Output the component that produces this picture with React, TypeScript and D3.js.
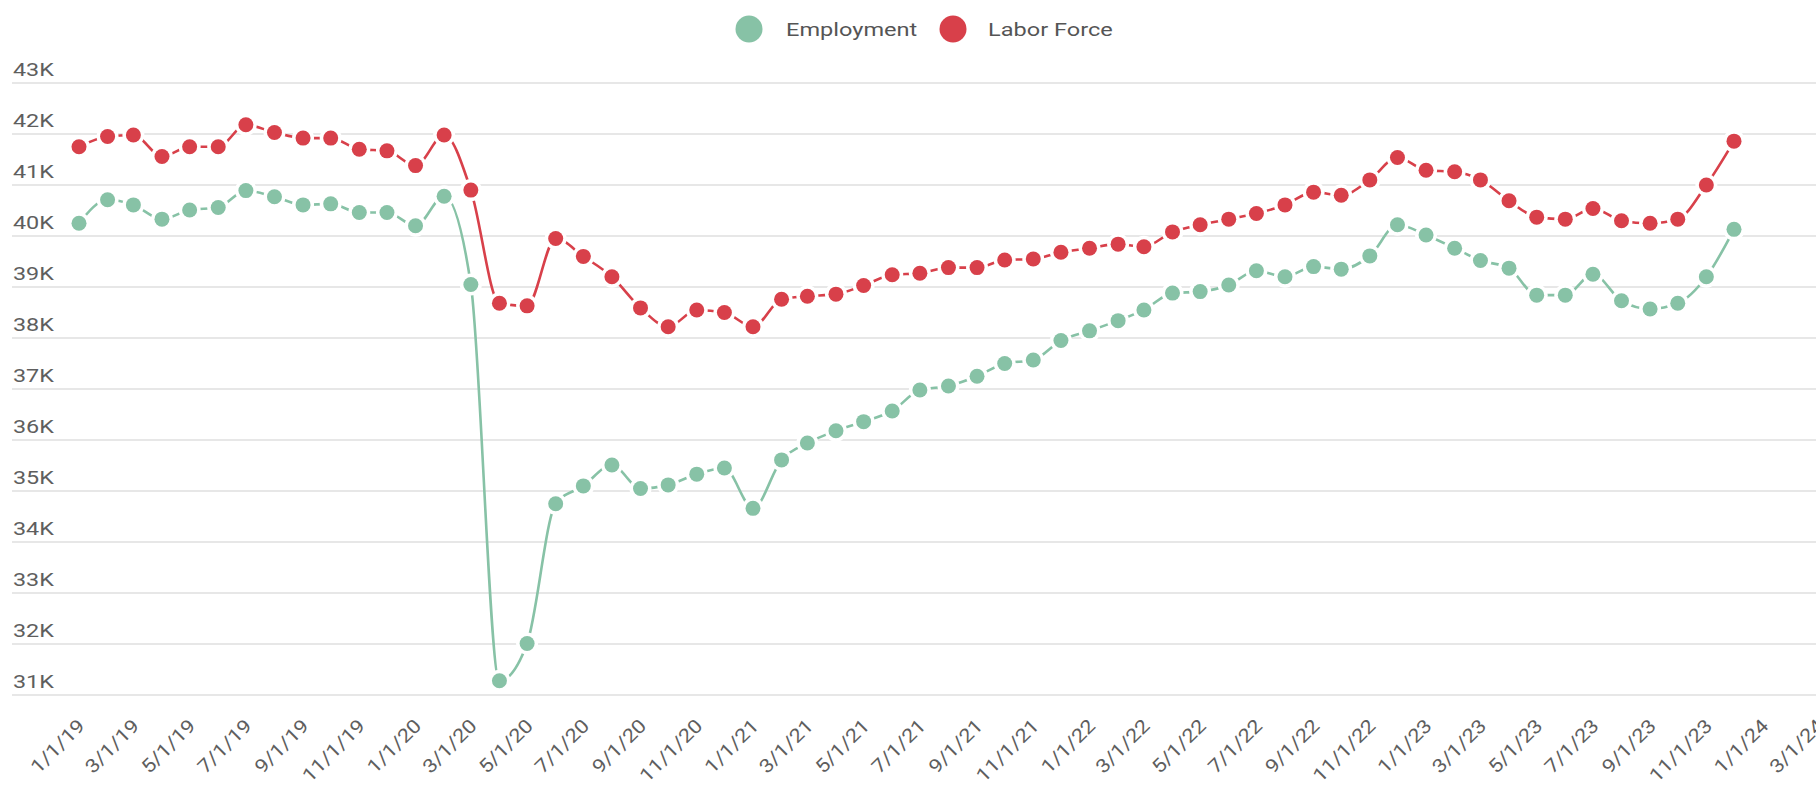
import React from "react";
import * as d3 from "d3";

const months: string[] = [
  "2019-01-01","2019-02-01","2019-03-01","2019-04-01","2019-05-01","2019-06-01",
  "2019-07-01","2019-08-01","2019-09-01","2019-10-01","2019-11-01","2019-12-01",
  "2020-01-01","2020-02-01","2020-03-01","2020-04-01","2020-05-01","2020-06-01",
  "2020-07-01","2020-08-01","2020-09-01","2020-10-01","2020-11-01","2020-12-01",
  "2021-01-01","2021-02-01","2021-03-01","2021-04-01","2021-05-01","2021-06-01",
  "2021-07-01","2021-08-01","2021-09-01","2021-10-01","2021-11-01","2021-12-01",
  "2022-01-01","2022-02-01","2022-03-01","2022-04-01","2022-05-01","2022-06-01",
  "2022-07-01","2022-08-01","2022-09-01","2022-10-01","2022-11-01","2022-12-01",
  "2023-01-01","2023-02-01","2023-03-01","2023-04-01","2023-05-01","2023-06-01",
  "2023-07-01","2023-08-01","2023-09-01","2023-10-01","2023-11-01","2023-12-01",
];

const employment: number[] = [
  40250, 40710, 40610, 40330, 40510, 40560, 40890, 40770, 40610, 40630, 40460, 40460,
  40200, 40780, 39050, 31280, 32010, 34750, 35100, 35510, 35050, 35120, 35330, 35450,
  34660, 35610, 35940, 36180, 36360, 36570, 36980, 37060, 37250, 37500, 37570, 37950,
  38140, 38340, 38550, 38880, 38910, 39040, 39320, 39200, 39400, 39350, 39610, 40220,
  40020, 39760, 39520, 39370, 38840, 38840, 39250, 38730, 38570, 38680, 39200, 40130,
];

const laborForce: number[] = [
  41750, 41950, 41980, 41560, 41750, 41750, 42180, 42030, 41920, 41920, 41700, 41670,
  41380, 41980, 40900, 38680, 38630, 39950, 39600, 39200, 38590, 38220, 38550, 38500,
  38220, 38760, 38820, 38860, 39030, 39240, 39270, 39380, 39380, 39530, 39550, 39680,
  39760, 39840, 39790, 40080, 40220, 40330, 40440, 40610, 40860, 40800, 41100, 41540,
  41290, 41260, 41100, 40690, 40370, 40330, 40540, 40300, 40250, 40330, 41000, 41860,
];

const seriesNames: string[] = ["Employment", "Labor Force"];
const seriesColors: string[] = ["#87c2a6", "#d8404a"];

const yTicks: number[] = [31000, 32000, 33000, 34000, 35000, 36000, 37000, 38000, 39000, 40000, 41000, 42000, 43000];
const xTickStart = "2019-01-01";
const xTickEnd = "2024-03-02";

const W = 1816;
const H = 788;

export default function App() {
  const parse = d3.timeParse("%Y-%m-%d");
  const dates = months.map((m) => parse(m) as Date);

  const x = d3
    .scaleTime()
    .domain([dates[0], dates[dates.length - 1]])
    .range([79, 1734]);
  const y = d3.scaleLinear().domain([31000, 43000]).range([695, 83]);

  const line = d3
    .line<number>()
    .x((_, i) => x(dates[i]))
    .y((d) => y(d))
    .curve(d3.curveMonotoneX);

  const xTicks = d3.timeMonth.every(2)!.range(parse(xTickStart) as Date, parse(xTickEnd) as Date);
  const fmtDate = d3.timeFormat("%-m/%-d/%y");
  const fmtK = (v: number) => `${Math.round(v / 1000)}K`;

  const series = [employment, laborForce];
  const font = "Roboto, 'Noto Sans', sans-serif";

  return (
    <svg
      width={W}
      height={H}
      viewBox={`0 0 ${W} ${H}`}
      style={{ position: "absolute", left: 0, top: 0, background: "#fff" }}
    >
      <rect x={0} y={0} width={W} height={H} fill="#fff" />
      {/* grid + y labels */}
      {yTicks.map((t) => (
        <g key={t}>
          <line x1={12} x2={W} y1={y(t)} y2={y(t)} stroke="#e7e7e7" strokeWidth={2} />
          <text
            transform={`translate(13, ${y(t) - 7}) scale(1.23,1)`}
            fontFamily={font}
            fontSize={19}
            fill="#5e5e5e"
          >
            {fmtK(t)}
          </text>
        </g>
      ))}

      {/* x labels */}
      {xTicks.map((d, i) => (
        <text
          key={i}
          transform={`translate(${x(d) + 7}, 727) rotate(-45) scale(1.15,1)`}
          textAnchor="end"
          fontFamily={font}
          fontSize={19}
          fill="#5e5e5e"
        >
          {fmtDate(d)}
        </text>
      ))}

      {/* lines */}
      {series.map((s, si) => (
        <path key={si} d={line(s) || ""} fill="none" stroke={seriesColors[si]} strokeWidth={2.6} />
      ))}

      {/* markers */}
      {series.map((s, si) => (
        <g key={si}>
          {s.map((v, i) => (
            <circle key={"h" + i} cx={x(dates[i])} cy={y(v)} r={11} fill="#fff" />
          ))}
          {s.map((v, i) => (
            <circle key={"d" + i} cx={x(dates[i])} cy={y(v)} r={7.5} fill={seriesColors[si]} />
          ))}
        </g>
      ))}

      {/* legend */}
      <g>
        <circle cx={749} cy={29} r={13.5} fill={seriesColors[0]} />
        <text transform="translate(786, 36) scale(1.24,1)" fontFamily={font} fontSize={19} fill="#555">
          {seriesNames[0]}
        </text>
        <circle cx={953} cy={29} r={13.5} fill={seriesColors[1]} />
        <text transform="translate(988, 36) scale(1.24,1)" fontFamily={font} fontSize={19} fill="#555">
          {seriesNames[1]}
        </text>
      </g>
    </svg>
  );
}
